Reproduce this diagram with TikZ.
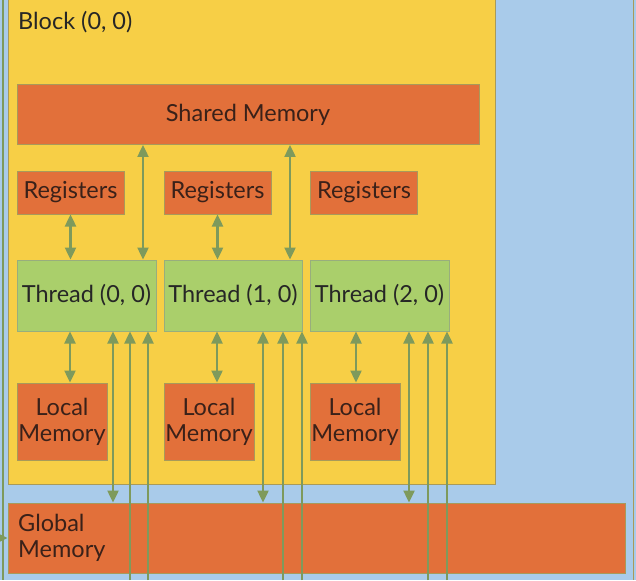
\documentclass[tikz,border=0pt]{standalone}
\usepackage{fontspec}
\setmainfont{Lato}
\usetikzlibrary{arrows.meta}
\definecolor{bgblue}{HTML}{A9CBEA}
\definecolor{blockyellow}{HTML}{F7CF46}
\definecolor{memorange}{HTML}{E2703A}
\definecolor{thrgreen}{HTML}{AACF6B}
\definecolor{arrgreen}{HTML}{7E9A5C}
\definecolor{boxline}{HTML}{A89A5A}
\definecolor{txtdark}{HTML}{3A2119}
\tikzset{
  mem/.style={draw=boxline, line width=1pt, fill=memorange, text=txtdark, inner sep=0pt, align=center},
  thr/.style={draw=arrgreen!80, line width=1pt, fill=thrgreen, text=black!85, inner sep=0pt},
  arr/.style={draw=arrgreen, line width=2.4pt, -{Triangle[length=12pt,width=11pt]}},
  dbl/.style={arr, {Triangle[length=12pt,width=11pt]}-{Triangle[length=12pt,width=11pt]}}
}
\begin{document}
\begin{tikzpicture}[x=1pt, y=-1pt, font=\fontsize{23.5}{26}\selectfont]
\useasboundingbox (0,0) rectangle (636,580);
\fill[bgblue] (0,0) rectangle (636,580);
\draw[boxline, line width=1pt] (633,0) -- (633,580);
\draw[arrgreen, line width=2.4pt] (3,0) -- (3,580);

\node[draw=boxline, line width=1pt, fill=blockyellow, minimum width=487, minimum height=485](blk) at (251.5,242){};
\node[anchor=west, text=black!85, inner sep=0pt](lbl) at (18,22){Block (0, 0)};

\node[mem, minimum width=462, minimum height=60](sm) at (248,114.5){Shared Memory};

\node[mem, minimum width=107, minimum height=43](reg0) at (70.5,192.5){Registers};
\node[mem, minimum width=107, minimum height=43](reg1) at (217.5,192.5){Registers};
\node[mem, minimum width=107, minimum height=43](reg2) at (364,192.5){Registers};

\node[thr, minimum width=139, minimum height=71](th0) at (86.5,295.5){Thread (0, 0)};
\node[thr, minimum width=138, minimum height=71](th1) at (233,295.5){Thread (1, 0)};
\node[thr, minimum width=139, minimum height=71](th2) at (379.5,295.5){Thread (2, 0)};

\node[mem, minimum width=90, minimum height=77](lm0) at (62,421.5){Local\\Memory};
\node[mem, minimum width=90, minimum height=77](lm1) at (209,421.5){Local\\Memory};
\node[mem, minimum width=90, minimum height=77](lm2) at (355,421.5){Local\\Memory};

\node[mem, minimum width=617, minimum height=70](gm) at (316.5,538){};
\node[anchor=west, align=left, text=txtdark, inner sep=0pt](gml) at (18,538){Global\\Memory};

\draw[dbl] (reg0.south) -- (reg0.south |- th0.north);
\draw[dbl] (reg1.south) -- (reg1.south |- th1.north);
\draw[dbl] (sm.south -| 143,0) -- (th0.north -| 143,0);
\draw[dbl] (sm.south -| 290,0) -- (th1.north -| 290,0);

\foreach \i/\a/\b/\c/\d in {0/70/113/130/148, 1/217/263/283/302, 2/356/409/428/447}{
  \draw[dbl] (th\i.south -| \a,0) -- (lm\i.north -| \a,0);
  \draw[dbl] (th\i.south -| \b,0) -- (gm.north -| \b,0);
  \draw[arr] (\c,580) -- (th\i.south -| \c,0);
  \draw[arr] (\d,580) -- (th\i.south -| \d,0);
}
\draw[arr] (0,538) -- (gm.west);
\end{tikzpicture}
\end{document}
